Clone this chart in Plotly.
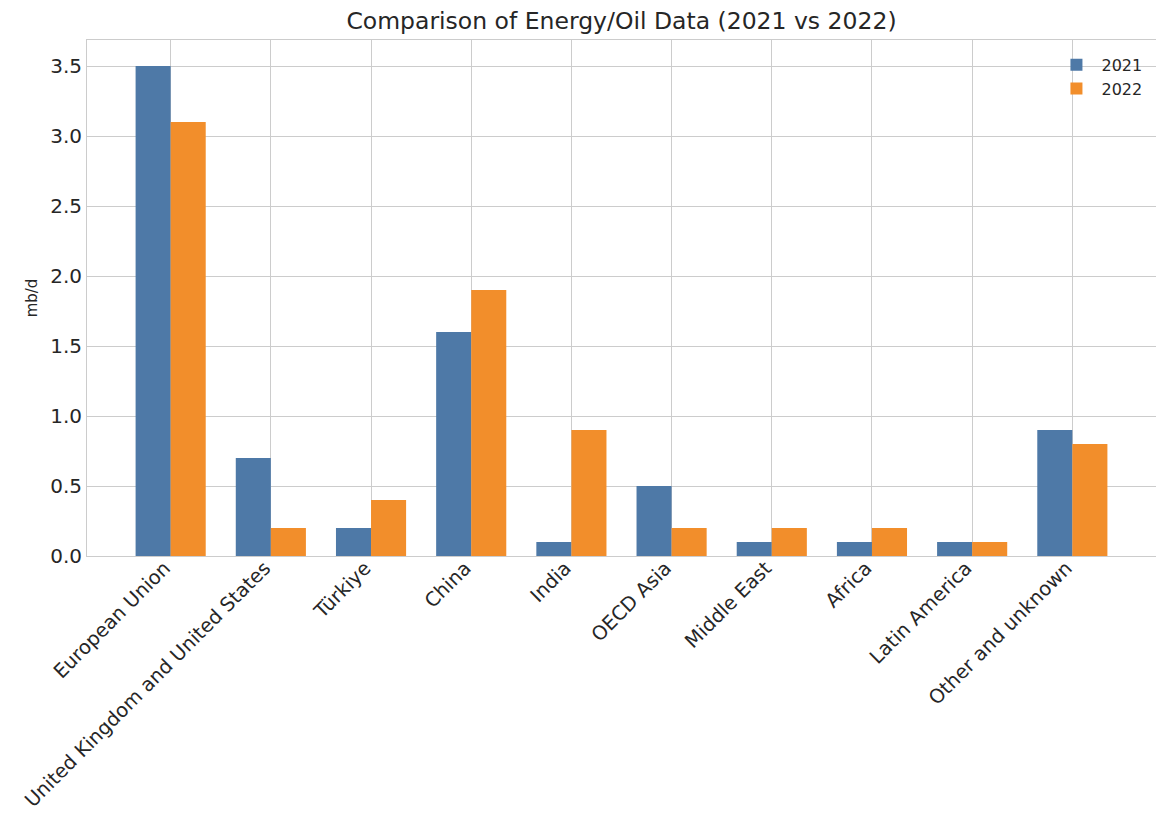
import plotly.graph_objects as go

categories = ["European Union", "United Kingdom and United States", "Türkiye", "China", "India",
              "OECD Asia", "Middle East", "Africa", "Latin America", "Other and unknown"]
values_2021 = [3.5, 0.7, 0.2, 1.6, 0.1, 0.5, 0.1, 0.1, 0.1, 0.9]
values_2022 = [3.1, 0.2, 0.4, 1.9, 0.9, 0.2, 0.2, 0.2, 0.1, 0.8]

fig = go.Figure()
fig.add_trace(go.Bar(x=categories, y=values_2021, name="2021", marker_color="#4e79a7", marker_line_width=0))
fig.add_trace(go.Bar(x=categories, y=values_2022, name="2022", marker_color="#f28e2b", marker_line_width=0))

fig.update_layout(
    width=1156, height=814,
    margin=dict(l=87, r=0, t=40, b=258, autoexpand=False),
    barmode="group", bargap=0.3, bargroupgap=0,
    plot_bgcolor="white", paper_bgcolor="white",
    font=dict(family="DejaVu Sans", color="#262626"),
    title=dict(text="Comparison of Energy/Oil Data (2021 vs 2022)", x=0.5, xref="paper", xanchor="center",
               y=1 - 21/814, yanchor="middle", font=dict(size=23.5, color="#262626")),
    legend=dict(x=0.992, y=0.985, xanchor="right", yanchor="top", bgcolor="rgba(0,0,0,0)",
                font=dict(size=16), itemwidth=40, tracegroupgap=0),
    showlegend=True,
)
fig.update_xaxes(range=[-0.835, 9.835], tickangle=-45, showgrid=True, gridcolor="#cccccc",
                 showline=True, linecolor="#cccccc", mirror=True, tickfont=dict(size=19.5),
                 ticks="", automargin=False, ticklabelstandoff=-8, ticklabelshift=-6)
fig.update_yaxes(range=[0, 3.686], dtick=0.5, tickformat=".1f", showgrid=True, gridcolor="#cccccc",
                 showline=True, linecolor="#cccccc", mirror=True, tickfont=dict(size=20),
                 zeroline=False, title=dict(text="mb/d", font=dict(size=15), standoff=8), ticks="",
                 automargin=False)

fig.write_html("out.html", config={"displayModeBar": False},
               post_script="document.body.style.margin='0';document.body.style.overflow='hidden';")
